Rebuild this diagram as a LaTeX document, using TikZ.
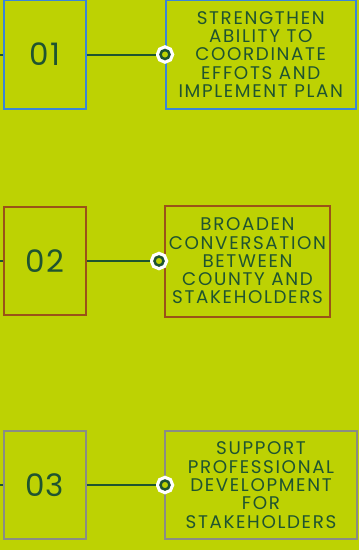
\documentclass[tikz,border=0pt]{standalone}
\usepackage{fontspec}
\setmainfont{Poppins}[LetterSpace=4]
\newfontfamily\goalfont{Poppins}[LetterSpace=9]
\usetikzlibrary{positioning}

\definecolor{limebg}{HTML}{BDD203}
\definecolor{darkleaf}{HTML}{1F5430}
\definecolor{boxblue}{HTML}{3A85D8}
\definecolor{boxrust}{HTML}{9A5218}
\definecolor{boxgray}{HTML}{8A8D84}

\def\numwidth{82.5pt}

\begin{document}
\begin{tikzpicture}[x=1pt,y=-1pt,
    numbox/.style={draw,line width=2pt,minimum width=\numwidth,inner sep=0pt,
      text=darkleaf,font=\fontsize{31}{31}\selectfont},
    goalbox/.style={draw,line width=2pt,inner sep=0pt,align=center,
      text=darkleaf,font=\goalfont\fontsize{18.3}{18.3}\selectfont},
    pin/.style={circle,minimum size=9pt,inner sep=0pt,outer sep=4.5pt,
      fill=limebg,draw=darkleaf,line width=2.5pt,
      preaction={draw=white,line width=9pt}},
    link/.style={draw=darkleaf,line width=2pt}
    ]

    \fill[limebg] (0,0) rectangle (359,550);
    \useasboundingbox (0,0) rectangle (359,550);

    \foreach \i/\y/\clr/\h/\gx/\gw/\gh/\px/\txt in {
      1/54.5/boxblue/109/260.75/190.5/109/165/{STRENGTHEN\\ABILITY TO\\COORDINATE\\EFFOTS AND\\IMPLEMENT PLAN},
      2/261/boxrust/108.5/247.5/165/111/159/{BROADEN\\CONVERSATION\\BETWEEN\\COUNTY AND\\STAKEHOLDERS},
      3/485/boxgray/108.6/261/192/108.6/165/{SUPPORT\\PROFESSIONAL\\DEVELOPMENT\\FOR\\STAKEHOLDERS}} {
      \node[numbox,draw=\clr,minimum height=\h pt] (num\i) at (44.75,\y) {0\i};
      \node[goalbox,draw=\clr,minimum width=\gw pt,minimum height=\gh pt] (goal\i) at (\gx,\y) {\txt};
      \node[pin] (pin\i) at (\px,\y) {};
      \coordinate (stub\i) at (0,\y);
      \draw[link] (stub\i) -- (num\i.west);
      \draw[link] (num\i.east) -- (pin\i.west);
    }
  \end{tikzpicture}
\end{document}
